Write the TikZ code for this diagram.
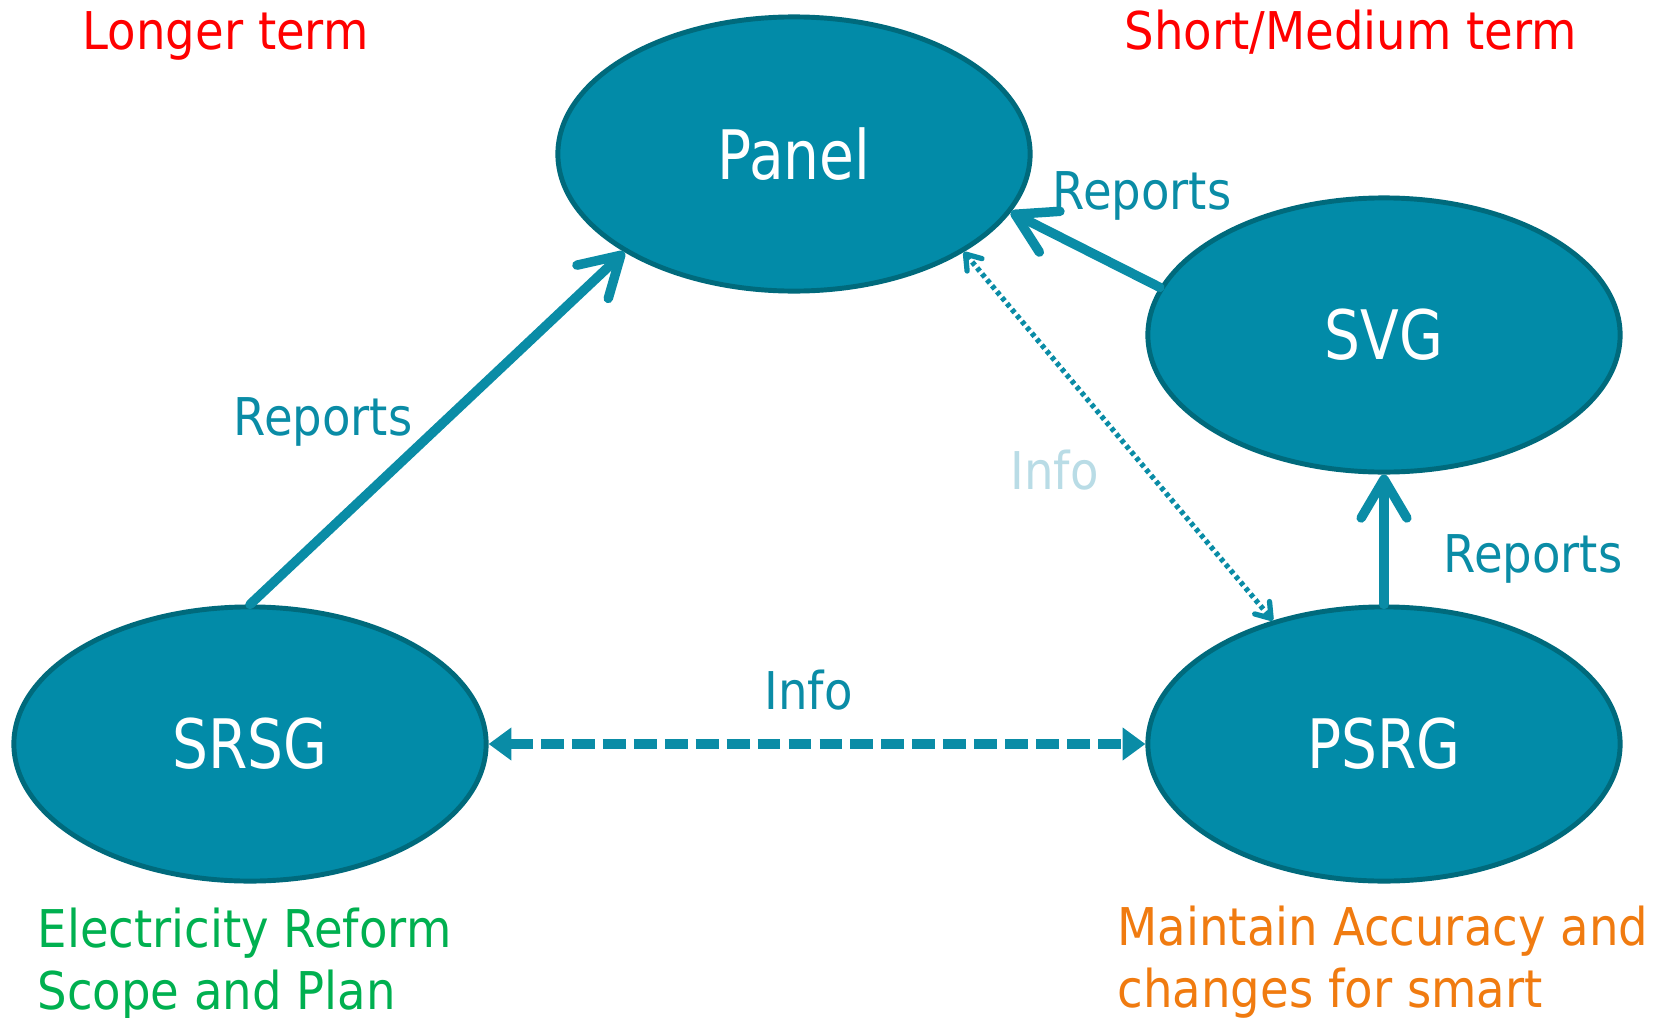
\documentclass[tikz,border=0pt]{standalone}
\usepackage{fontspec}
\setmainfont{DejaVu Sans}[FakeStretch=0.895]
\newfontfamily\grpfont{DejaVu Sans}[FakeStretch=0.83]
\usetikzlibrary{arrows.meta,shapes.geometric}
\definecolor{tfill}{HTML}{028BA8}
\definecolor{tdark}{HTML}{006A7C}
\definecolor{tline}{HTML}{0A8CA6}
\definecolor{ilight}{HTML}{B9DCE6}
\definecolor{hred}{HTML}{FF0000}
\definecolor{hgreen}{HTML}{00B050}
\definecolor{horange}{HTML}{F07B10}
\begin{document}
\begin{tikzpicture}[x=0.01cm,y=-0.01cm,
  grp/.style={ellipse, draw=tdark, line width=1.4pt, fill=tfill, text=white,
    minimum width=4.72cm, minimum height=2.74cm, inner sep=0pt,
    font=\grpfont\fontsize{19.4}{23}\selectfont},
  lbl/.style={anchor=base west, inner sep=0pt, font=\fontsize{14.8}{18}\selectfont},
  rep/.style={draw=tline, line width=2.7pt, line cap=round,
    -{Straight Barb[length=11pt,width=13pt,round]}},
  inf/.style={draw=tline, line width=3pt, dash pattern=on 6.5pt off 2.3pt,
    {Triangle[length=6.5pt,width=9pt]}-{Triangle[length=6.5pt,width=9pt]}},
  dot/.style={draw=tline, line width=1.5pt, dash pattern=on 1.2pt off 1pt,
    {Straight Barb[length=4pt,width=5.5pt,round]}-{Straight Barb[length=4pt,width=5.5pt,round]}}
]
\useasboundingbox (0,0) rectangle (1654,1018);
\node[grp] (Panel) at (794,154) {Panel};
\node[grp] (SVG) at (1384,335) {SVG};
\node[grp] (SRSG) at (250,744) {SRSG};
\node[grp] (PSRG) at (1384,744) {PSRG};

\draw[rep] (SRSG.north) -- (Panel.210);
\draw[rep] (SVG.168) -- (Panel.-15);
\draw[rep] (PSRG.north) -- (SVG.south);
\draw[dot] (Panel.-30.4) -- (PSRG.132.8);
\draw[inf] (SRSG.east) -- (PSRG.west);

\node[lbl, text=hred] (lt) at (82,50) {Longer term};
\node[lbl, text=hred] (smt) at (1124,50) {Short/Medium term};
\node[lbl, text=tline] (r1) at (1052,209) {Reports};
\node[lbl, text=tline] (r2) at (233,435) {Reports};
\node[lbl, text=tline] (r3) at (1443,572) {Reports};
\node[lbl, text=ilight] (i1) at (1010,489) {Info};
\node[lbl, text=tline] (i2) at (764,709) {Info};
\node[lbl, text=hgreen] (g1) at (37,947) {Electricity Reform};
\node[lbl, text=hgreen] (g2) at (37,1009) {Scope and Plan};
\node[lbl, text=horange] (o1) at (1117,945) {Maintain Accuracy and};
\node[lbl, text=horange] (o2) at (1117,1007) {changes for smart};
\end{tikzpicture}
\end{document}
